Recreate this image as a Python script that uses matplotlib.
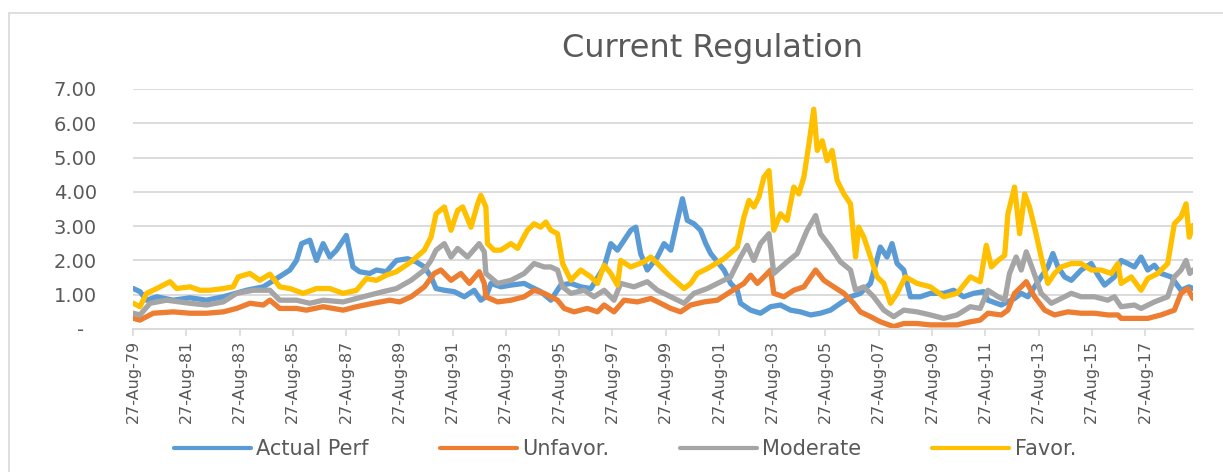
import matplotlib
matplotlib.use('Agg')
import matplotlib.pyplot as plt
from matplotlib.patches import Rectangle

plt.rcParams['font.family'] = ['DejaVu Sans']

# 系列データ（図から読み取った値、x は年の小数表記）
actual_x = [1979.66, 1979.91, 1980.16, 1980.54, 1981.16, 1981.79, 1982.41, 1983.04, 1983.41, 1983.91,
            1984.54, 1985.04, 1985.54, 1985.79, 1985.98, 1986.29, 1986.54, 1986.79, 1987.04, 1987.29,
            1987.66, 1987.91, 1988.16, 1988.54, 1988.79, 1989.16, 1989.54, 1989.96, 1990.28, 1990.59,
            1990.84, 1991.03, 1991.34, 1991.71, 1992.09, 1992.46, 1992.71, 1992.90, 1993.09, 1993.46,
            1993.84, 1994.34, 1994.59, 1994.96, 1995.34, 1995.71, 1996.09, 1996.46, 1996.84, 1997.34,
            1997.59, 1997.84, 1998.09, 1998.34, 1998.53, 1998.71, 1998.96, 1999.34, 1999.59, 1999.84,
            2000.09, 2000.28, 2000.46, 2000.71, 2000.96, 2001.15, 2001.34, 2001.59, 2001.84, 2002.09,
            2002.34, 2002.46, 2002.84, 2003.21, 2003.59, 2003.96, 2004.34, 2004.71, 2005.09, 2005.46,
            2005.84, 2006.21, 2006.59, 2006.96, 2007.34, 2007.71, 2007.96, 2008.15, 2008.34, 2008.59,
            2008.84, 2009.21, 2009.59, 2010.09, 2010.46, 2010.84, 2011.21, 2011.59, 2011.75, 2012.25,
            2012.75, 2013.0, 2013.25, 2013.5, 2013.75, 2014.0, 2014.19, 2014.38, 2014.63, 2014.88,
            2015.25, 2015.63, 2015.88, 2016.13, 2016.5, 2016.75, 2017.0, 2017.25, 2017.5, 2017.75,
            2018.0, 2018.25, 2018.63, 2019.0, 2019.3, 2019.45]
actual_y = [1.18, 1.09, 0.84, 0.94, 0.84, 0.91, 0.84, 0.94, 1.02, 1.13,
            1.23, 1.47, 1.72, 2.00, 2.49, 2.59, 2.00, 2.49, 2.10, 2.30,
            2.73, 1.81, 1.67, 1.62, 1.72, 1.67, 2.00, 2.05, 1.96, 1.81,
            1.52, 1.18, 1.13, 1.09, 0.94, 1.13, 0.84, 0.94, 1.33, 1.23,
            1.28, 1.33, 1.23, 1.09, 0.84, 1.28, 1.33, 1.23, 1.18, 1.81,
            2.49, 2.30, 2.59, 2.88, 2.97, 2.20, 1.72, 2.10, 2.49, 2.30,
            3.17, 3.80, 3.17, 3.07, 2.88, 2.50, 2.20, 1.96, 1.72, 1.33,
            1.13, 0.75, 0.55, 0.46, 0.65, 0.70, 0.55, 0.50, 0.41, 0.46,
            0.55, 0.75, 0.94, 1.04, 1.33, 2.39, 2.10, 2.49, 1.91, 1.72,
            0.94, 0.94, 1.04, 1.04, 1.13, 0.94, 1.04, 1.09, 0.84, 0.70,
            0.89, 1.04, 0.94, 1.23, 1.52, 1.81, 2.20, 1.81, 1.52, 1.42,
            1.72, 1.91, 1.57, 1.28, 1.52, 2.00, 1.91, 1.81, 2.10, 1.72,
            1.86, 1.62, 1.52, 1.13, 1.23, 1.18]

unfavor_x = [1979.66, 1979.91, 1980.41, 1981.16, 1981.79, 1982.41, 1983.04, 1983.54, 1984.04, 1984.54,
             1984.79, 1985.16, 1985.79, 1986.16, 1986.79, 1987.54, 1988.04, 1988.66, 1989.29, 1989.66,
             1990.09, 1990.59, 1990.96, 1991.21, 1991.59, 1991.96, 1992.28, 1992.65, 1992.84, 1992.90,
             1993.34, 1993.84, 1994.34, 1994.71, 1995.09, 1995.59, 1995.84, 1996.21, 1996.71, 1997.09,
             1997.34, 1997.71, 1998.09, 1998.59, 1999.09, 1999.46, 1999.84, 2000.21, 2000.59, 2001.09,
             2001.59, 2002.09, 2002.59, 2002.84, 2003.09, 2003.34, 2003.59, 2003.71, 2004.09, 2004.46,
             2004.84, 2005.28, 2005.59, 2005.96, 2006.34, 2006.71, 2006.96, 2007.34, 2007.71, 2008.21,
             2008.59, 2009.09, 2009.59, 2010.09, 2010.59, 2011.09, 2011.46, 2011.75, 2012.25, 2012.5,
             2012.75, 2013.0, 2013.19, 2013.5, 2013.88, 2014.25, 2014.75, 2015.25, 2015.75, 2016.25,
             2016.63, 2016.75, 2017.25, 2017.75, 2018.25, 2018.75, 2019.0, 2019.25, 2019.45]
unfavor_y = [0.31, 0.26, 0.46, 0.50, 0.46, 0.46, 0.50, 0.60, 0.75, 0.70,
             0.84, 0.60, 0.60, 0.55, 0.65, 0.55, 0.65, 0.75, 0.84, 0.79,
             0.94, 1.23, 1.62, 1.72, 1.42, 1.62, 1.33, 1.67, 1.33, 0.94,
             0.79, 0.84, 0.94, 1.13, 1.04, 0.84, 0.60, 0.50, 0.60, 0.50,
             0.70, 0.50, 0.84, 0.79, 0.89, 0.75, 0.60, 0.50, 0.70, 0.79,
             0.84, 1.09, 1.33, 1.57, 1.33, 1.52, 1.72, 1.04, 0.94, 1.13,
             1.23, 1.72, 1.42, 1.23, 1.04, 0.75, 0.50, 0.36, 0.21, 0.07,
             0.16, 0.16, 0.12, 0.12, 0.12, 0.21, 0.26, 0.46, 0.41, 0.55,
             1.04, 1.23, 1.38, 0.94, 0.55, 0.41, 0.50, 0.46, 0.46, 0.41,
             0.41, 0.31, 0.31, 0.31, 0.41, 0.55, 1.04, 1.18, 0.89]

moderate_x = [1979.66, 1979.91, 1980.29, 1980.91, 1981.79, 1982.41, 1983.04, 1983.54, 1984.16, 1984.79,
              1985.16, 1985.79, 1986.29, 1986.79, 1987.54, 1988.04, 1988.54, 1989.04, 1989.54, 1990.09,
              1990.59, 1990.84, 1991.03, 1991.34, 1991.59, 1991.84, 1992.21, 1992.65, 1992.84, 1992.90,
              1993.34, 1993.84, 1994.34, 1994.71, 1995.09, 1995.34, 1995.59, 1995.78, 1996.09, 1996.59,
              1996.96, 1997.34, 1997.71, 1997.96, 1998.46, 1998.96, 1999.34, 1999.84, 2000.34, 2000.71,
              2001.21, 2002.09, 2002.46, 2002.71, 2002.96, 2003.21, 2003.53, 2003.71, 2004.21, 2004.59,
              2004.96, 2005.28, 2005.46, 2005.84, 2006.21, 2006.59, 2006.78, 2007.09, 2007.46, 2007.84,
              2008.21, 2008.59, 2009.09, 2009.59, 2010.09, 2010.59, 2011.09, 2011.46, 2011.75, 2012.13,
              2012.38, 2012.56, 2012.81, 2013.0, 2013.19, 2013.44, 2013.75, 2014.13, 2014.5, 2014.88,
              2015.25, 2015.75, 2016.25, 2016.5, 2016.75, 2017.25, 2017.5, 2018.0, 2018.5, 2018.75,
              2019.0, 2019.19, 2019.33, 2019.45]
moderate_y = [0.46, 0.41, 0.75, 0.84, 0.75, 0.70, 0.79, 1.04, 1.13, 1.13,
              0.84, 0.84, 0.75, 0.84, 0.79, 0.89, 0.99, 1.09, 1.18, 1.42,
              1.72, 2.00, 2.30, 2.49, 2.10, 2.35, 2.10, 2.49, 2.25, 1.62,
              1.33, 1.42, 1.62, 1.91, 1.81, 1.81, 1.72, 1.23, 1.04, 1.13,
              0.94, 1.13, 0.84, 1.33, 1.23, 1.38, 1.13, 0.94, 0.75, 1.04,
              1.18, 1.52, 2.10, 2.44, 2.00, 2.49, 2.78, 1.62, 1.96, 2.20,
              2.88, 3.31, 2.78, 2.39, 1.96, 1.72, 1.13, 1.23, 0.94, 0.55,
              0.36, 0.55, 0.50, 0.41, 0.31, 0.41, 0.65, 0.60, 1.13, 0.94,
              0.84, 1.62, 2.10, 1.72, 2.25, 1.72, 1.04, 0.75, 0.89, 1.04,
              0.94, 0.94, 0.84, 0.94, 0.65, 0.70, 0.60, 0.79, 0.94, 1.52,
              1.72, 2.00, 1.62, 1.72]

favor_x = [1979.66, 1979.91, 1980.16, 1980.54, 1981.04, 1981.29, 1981.79, 1982.16, 1982.54, 1983.04,
           1983.41, 1983.60, 1984.04, 1984.41, 1984.79, 1985.16, 1985.54, 1986.04, 1986.54, 1987.04,
           1987.54, 1988.04, 1988.41, 1988.79, 1989.16, 1989.54, 1990.09, 1990.59, 1990.84, 1991.03,
           1991.34, 1991.59, 1991.84, 1992.03, 1992.34, 1992.59, 1992.71, 1992.90, 1992.96, 1993.21,
           1993.46, 1993.84, 1994.09, 1994.46, 1994.71, 1994.96, 1995.15, 1995.34, 1995.59, 1995.78,
           1996.09, 1996.46, 1996.84, 1997.09, 1997.34, 1997.59, 1997.84, 1997.96, 1998.34, 1998.84,
           1999.09, 1999.34, 1999.84, 2000.34, 2000.59, 2000.84, 2001.21, 2001.84, 2002.34, 2002.59,
           2002.78, 2002.96, 2003.15, 2003.34, 2003.53, 2003.71, 2003.96, 2004.21, 2004.46, 2004.65,
           2004.84, 2005.03, 2005.21, 2005.34, 2005.53, 2005.71, 2005.90, 2006.09, 2006.34, 2006.59,
           2006.78, 2006.90, 2007.09, 2007.34, 2007.59, 2007.84, 2008.09, 2008.34, 2008.65, 2009.09,
           2009.59, 2010.09, 2010.59, 2011.09, 2011.46, 2011.69, 2011.88, 2012.13, 2012.38, 2012.5,
           2012.75, 2012.94, 2013.13, 2013.31, 2013.5, 2013.75, 2014.0, 2014.25, 2014.5, 2014.88,
           2015.25, 2015.63, 2016.0, 2016.38, 2016.63, 2016.75, 2017.13, 2017.5, 2017.75, 2018.13,
           2018.5, 2018.75, 2019.0, 2019.19, 2019.31, 2019.45]
favor_y = [0.75, 0.65, 1.04, 1.18, 1.38, 1.18, 1.23, 1.13, 1.13, 1.18,
           1.23, 1.52, 1.62, 1.42, 1.60, 1.23, 1.18, 1.04, 1.18, 1.18,
           1.04, 1.13, 1.47, 1.42, 1.57, 1.67, 1.96, 2.30, 2.68, 3.36,
           3.56, 2.88, 3.46, 3.56, 2.97, 3.65, 3.90, 3.56, 2.49, 2.30,
           2.30, 2.49, 2.35, 2.88, 3.07, 2.97, 3.12, 2.88, 2.78, 1.91,
           1.42, 1.72, 1.52, 1.33, 1.86, 1.62, 1.28, 2.00, 1.81, 1.96,
           2.10, 1.91, 1.52, 1.18, 1.33, 1.62, 1.76, 2.05, 2.39, 3.27,
           3.75, 3.56, 3.85, 4.43, 4.62, 2.88, 3.36, 3.17, 4.14, 3.94,
           4.43, 5.40, 6.41, 5.21, 5.49, 4.91, 5.21, 4.33, 3.94, 3.65,
           2.10, 2.97, 2.68, 2.10, 1.52, 1.33, 0.75, 1.04, 1.52, 1.33,
           1.23, 0.94, 1.04, 1.52, 1.38, 2.44, 1.81, 2.00, 2.15, 3.36,
           4.14, 2.78, 3.94, 3.56, 2.97, 2.10, 1.33, 1.62, 1.81, 1.91,
           1.91, 1.72, 1.72, 1.62, 1.91, 1.33, 1.52, 1.13, 1.47, 1.62,
           1.91, 3.07, 3.27, 3.65, 2.68, 3.02]

series_names = ['Actual Perf', 'Unfavor.', 'Moderate', 'Favor.']
tick_years = list(range(1979, 2018, 2))
y_ticks = [0, 1, 2, 3, 4, 5, 6, 7]

colors = ['#5B9BD5', '#ED7D31', '#A5A5A5', '#FFC000']
text_color = '#595959'
grid_color = '#D9D9D9'

fig = plt.figure(figsize=(12.23, 4.72), dpi=100)

# 外枠
fig.patches.append(Rectangle((9 / 1223, -0.1), 1.2, 0.1 + 459 / 472, transform=fig.transFigure,
                             fill=False, edgecolor=grid_color, linewidth=1.2))

ax = fig.add_axes([133 / 1223, 143 / 472, 1060 / 1223, 240 / 472])

all_x = [actual_x, unfavor_x, moderate_x, favor_x]
all_y = [actual_y, unfavor_y, moderate_y, favor_y]
for xs, ys, name, c in zip(all_x, all_y, series_names, colors):
    ax.plot(xs, ys, color=c, linewidth=3.8, solid_joinstyle='round', solid_capstyle='round', label=name)

ax.set_xlim(1979.65, 2019.45)
ax.set_ylim(0, 7)

# 目盛り
ax.set_yticks(y_ticks)
ax.set_yticklabels(['-  '] + [f'{v:.2f}' for v in y_ticks[1:]])
ax.set_xticks([y + 0.65 for y in tick_years])
ax.set_xticklabels([f'27-Aug-{y % 100:02d}' for y in tick_years], rotation=90)
ax.tick_params(axis='y', length=0, labelsize=14, labelcolor=text_color, pad=26)
ax.tick_params(axis='x', length=5, color=grid_color, width=1.2, labelsize=11.5,
               labelcolor=text_color, pad=3)

ax.grid(True, axis='y', color=grid_color, linewidth=1.3)
ax.set_axisbelow(True)
for side in ['top', 'right', 'left']:
    ax.spines[side].set_visible(False)
ax.spines['bottom'].set_color(grid_color)
ax.spines['bottom'].set_linewidth(1.3)

fig.text(712 / 1223, 1 - 49 / 472, 'Current Regulation', ha='center', va='center',
         fontsize=23, color=text_color)

leg = fig.legend(loc='center', bbox_to_anchor=(625 / 1223, 23 / 472), ncol=4, frameon=False,
                 fontsize=15, handlelength=3.7, handletextpad=0.25, columnspacing=3.4)
for t in leg.get_texts():
    t.set_color(text_color)
for h in leg.get_lines():
    h.set_linewidth(3)

fig.savefig('out.png', dpi=100)
